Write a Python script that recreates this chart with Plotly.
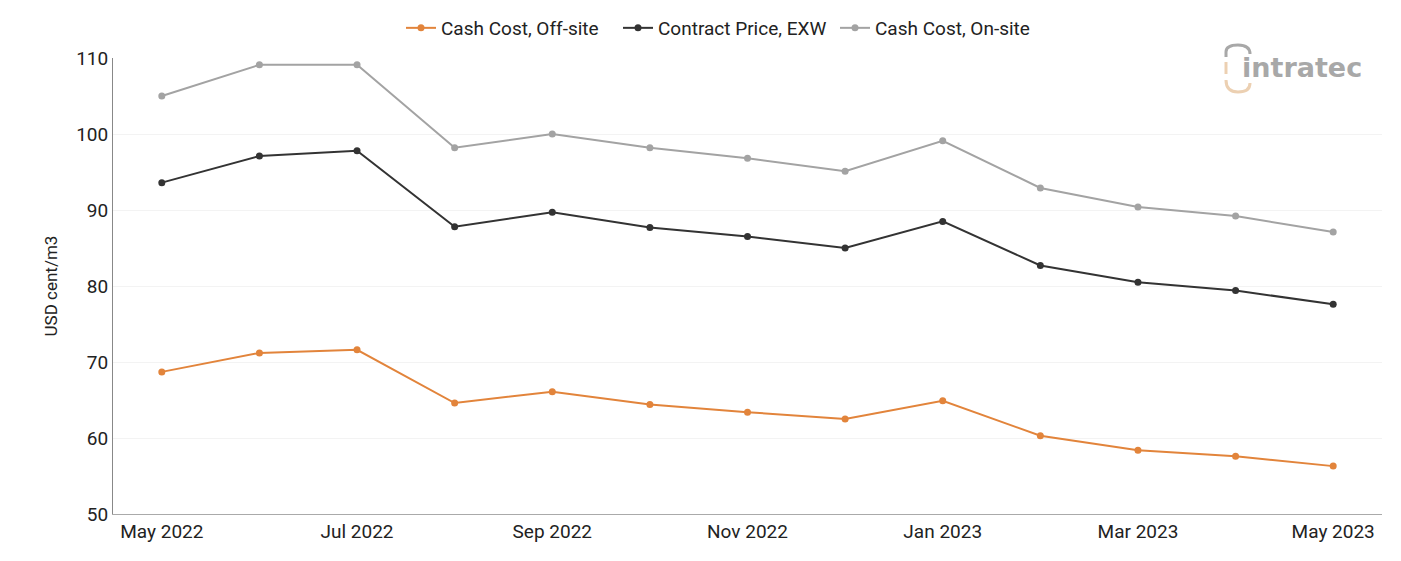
import plotly.graph_objects as go

months = ["May 2022", "Jun 2022", "Jul 2022", "Aug 2022", "Sep 2022", "Oct 2022", "Nov 2022",
          "Dec 2022", "Jan 2023", "Feb 2023", "Mar 2023", "Apr 2023", "May 2023"]
off_site = [68.7, 71.2, 71.6, 64.6, 66.1, 64.4, 63.4, 62.5, 64.9, 60.3, 58.4, 57.6, 56.3]
contract = [93.6, 97.1, 97.8, 87.8, 89.7, 87.7, 86.5, 85.0, 88.5, 82.7, 80.5, 79.4, 77.6]
on_site = [105.0, 109.1, 109.1, 98.2, 100.0, 98.2, 96.8, 95.1, 99.1, 92.9, 90.4, 89.2, 87.1]
tick_labels = ["May 2022", "Jul 2022", "Sep 2022", "Nov 2022", "Jan 2023", "Mar 2023", "May 2023"]

W, H = 1401, 561
L, R, T, B = 113, 19, 58, 47
PW, PH = W - L - R, H - T - B


def px(x, y):
    return f"{(x - L) / PW:.5f},{(H - B - y) / PH:.5f}"


fig = go.Figure()
for name, vals, col in [("Cash Cost, Off-site", off_site, "#e2843b"),
                        ("Contract Price, EXW", contract, "#333333"),
                        ("Cash Cost, On-site", on_site, "#a3a3a3")]:
    fig.add_trace(go.Scatter(x=months, y=vals, name=name, mode="lines+markers",
                             line=dict(color=col, width=2), marker=dict(size=7, color=col)))

fig.update_layout(
    width=W, height=H,
    margin=dict(l=L, r=R, t=T, b=B, autoexpand=False),
    paper_bgcolor="white", plot_bgcolor="white",
    font=dict(family="Roboto", size=19, color="#222222"),
    legend=dict(orientation="h", x=0.5 + 26 / W, xanchor="center", xref="container",
                y=1 - 28 / H, yanchor="middle", yref="container", font=dict(size=19),
                entrywidth=172, entrywidthmode="pixels", itemwidth=30),
    xaxis=dict(type="category", range=[-0.5, 12.5], tickvals=tick_labels, ticktext=tick_labels,
               showline=True, linecolor="#aaaaaa", linewidth=1, showgrid=False, ticks="",
               tickfont=dict(size=19)),
    yaxis=dict(range=[50, 110], dtick=10, showline=True, linecolor="#888888", linewidth=1,
               gridcolor="#f3f3f3", zeroline=False, ticks="",
               title=dict(text="USD cent/m3", font=dict(size=17), standoff=14),
               tickfont=dict(size=19)),
    showlegend=True,
)

# logo
fig.add_annotation(xref="paper", yref="paper", x=(1364 - L) / PW, y=(H - B - 75) / PH,
                   xanchor="right", yanchor="bottom", yshift=-10, text="intratec", showarrow=False,
                   font=dict(family="DejaVu Sans", size=27, color="#a8a8a8", weight="bold"))
fig.add_shape(type="path", xref="paper", yref="paper",
              path=f"M{px(1226, 57)} L{px(1226, 52)} Q{px(1226, 45)} {px(1238, 45)} Q{px(1250, 45)} {px(1250, 54)}",
              line=dict(color="#a8a8a8", width=3))
fig.add_shape(type="path", xref="paper", yref="paper",
              path=f"M{px(1226, 62)} L{px(1226, 74)}",
              line=dict(color="#ecd0b2", width=3))
fig.add_shape(type="path", xref="paper", yref="paper",
              path=f"M{px(1226, 80)} Q{px(1226, 92)} {px(1238, 92)} Q{px(1250, 92)} {px(1250, 83)}",
              line=dict(color="#ecd0b2", width=3))

fig.write_html("out.html")
